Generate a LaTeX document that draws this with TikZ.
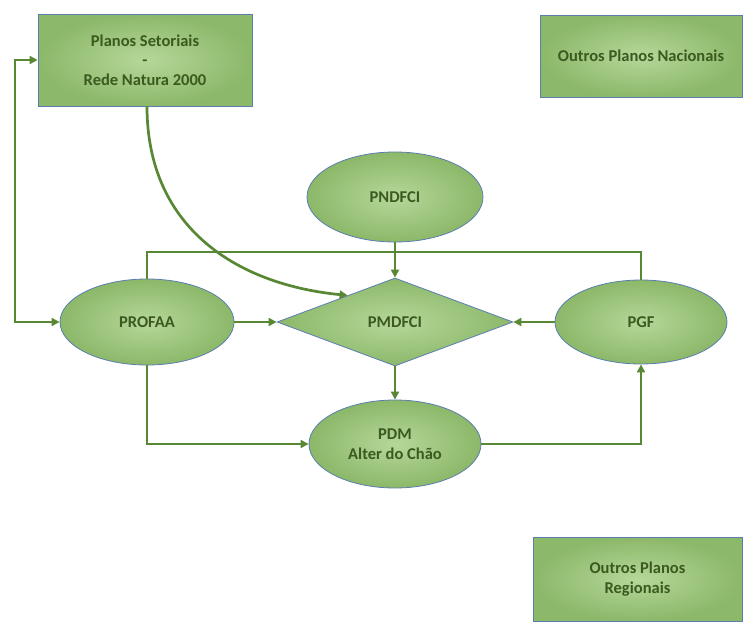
\documentclass[tikz,border=0pt]{standalone}
\usepackage{fontspec}
\setmainfont{Carlito}
\usetikzlibrary{shapes.geometric,arrows.meta,calc}
\definecolor{gIn}{HTML}{B5D79A}
\definecolor{gOut}{HTML}{8CB869}
\definecolor{txt}{HTML}{3A5A1F}
\definecolor{ln}{HTML}{588834}
\definecolor{bd}{HTML}{5B7DB0}
\tikzset{
  greenshape/.style={inner color=gIn, outer color=gOut, draw=bd, line width=0.8pt,
    text=txt, font=\fontsize{16.5}{19.5}\selectfont\bfseries, align=center, inner sep=0pt},
  boxnode/.style={greenshape, rectangle},
  ellnode/.style={greenshape, ellipse},
  dianode/.style={greenshape, diamond},
  conn/.style={draw=ln, line width=2.7pt},
  arr/.style={conn, -{Triangle[length=8pt,width=8pt]}}
}
\begin{document}
\begin{tikzpicture}[x=1pt,y=-1pt]
\useasboundingbox (0,0) rectangle (744,624);
\node[boxnode, minimum width=214pt, minimum height=92pt] (box1) at (145,60) {Planos Setoriais\\-\\Rede Natura 2000};
\node[boxnode, minimum width=202pt, minimum height=82pt] (box2) at (641,56) {Outros Planos Nacionais};
\node[boxnode, minimum width=209pt, minimum height=84pt] (box3) at (637.5,579) {Outros Planos\\Regionais};
\node[ellnode, minimum width=176pt, minimum height=90pt] (pndfci) at (395,197) {PNDFCI};
\node[ellnode, minimum width=174pt, minimum height=86pt] (profaa) at (147,322) {PROFAA};
\node[dianode, minimum width=236pt, minimum height=88pt] (pmdfci) at (395,322) {PMDFCI};
\node[ellnode, minimum width=172pt, minimum height=84pt] (pgf) at (641,322) {PGF};
\node[ellnode, minimum width=172pt, minimum height=88pt] (pdm) at (395,444) {PDM\\Alter do Chão};
\coordinate (bus) at (395,252);
\coordinate (lft) at (15,190);
\coordinate (tgt) at ($(pmdfci.west)!0.6!(pmdfci.north)$);
\draw[conn] (profaa.north) |- (bus) -| (pgf.north);
\draw[arr] (pndfci.south) -- (pmdfci.north);
\draw[arr] (profaa.east) -- (pmdfci.west);
\draw[arr] (pgf.west) -- (pmdfci.east);
\draw[arr] (pmdfci.south) -- (pdm.north);
\draw[arr] (profaa.south) |- (pdm.west);
\draw[arr] (pdm.east) -| (pgf.south);
\draw[conn, {Triangle[length=8pt,width=8pt]}-{Triangle[length=8pt,width=8pt]}] (box1.west) -| (lft) |- (profaa.west);
\draw[arr] ([xshift=2pt]box1.south) .. controls (147,230) and (240,285) .. (tgt);
\end{tikzpicture}
\end{document}
